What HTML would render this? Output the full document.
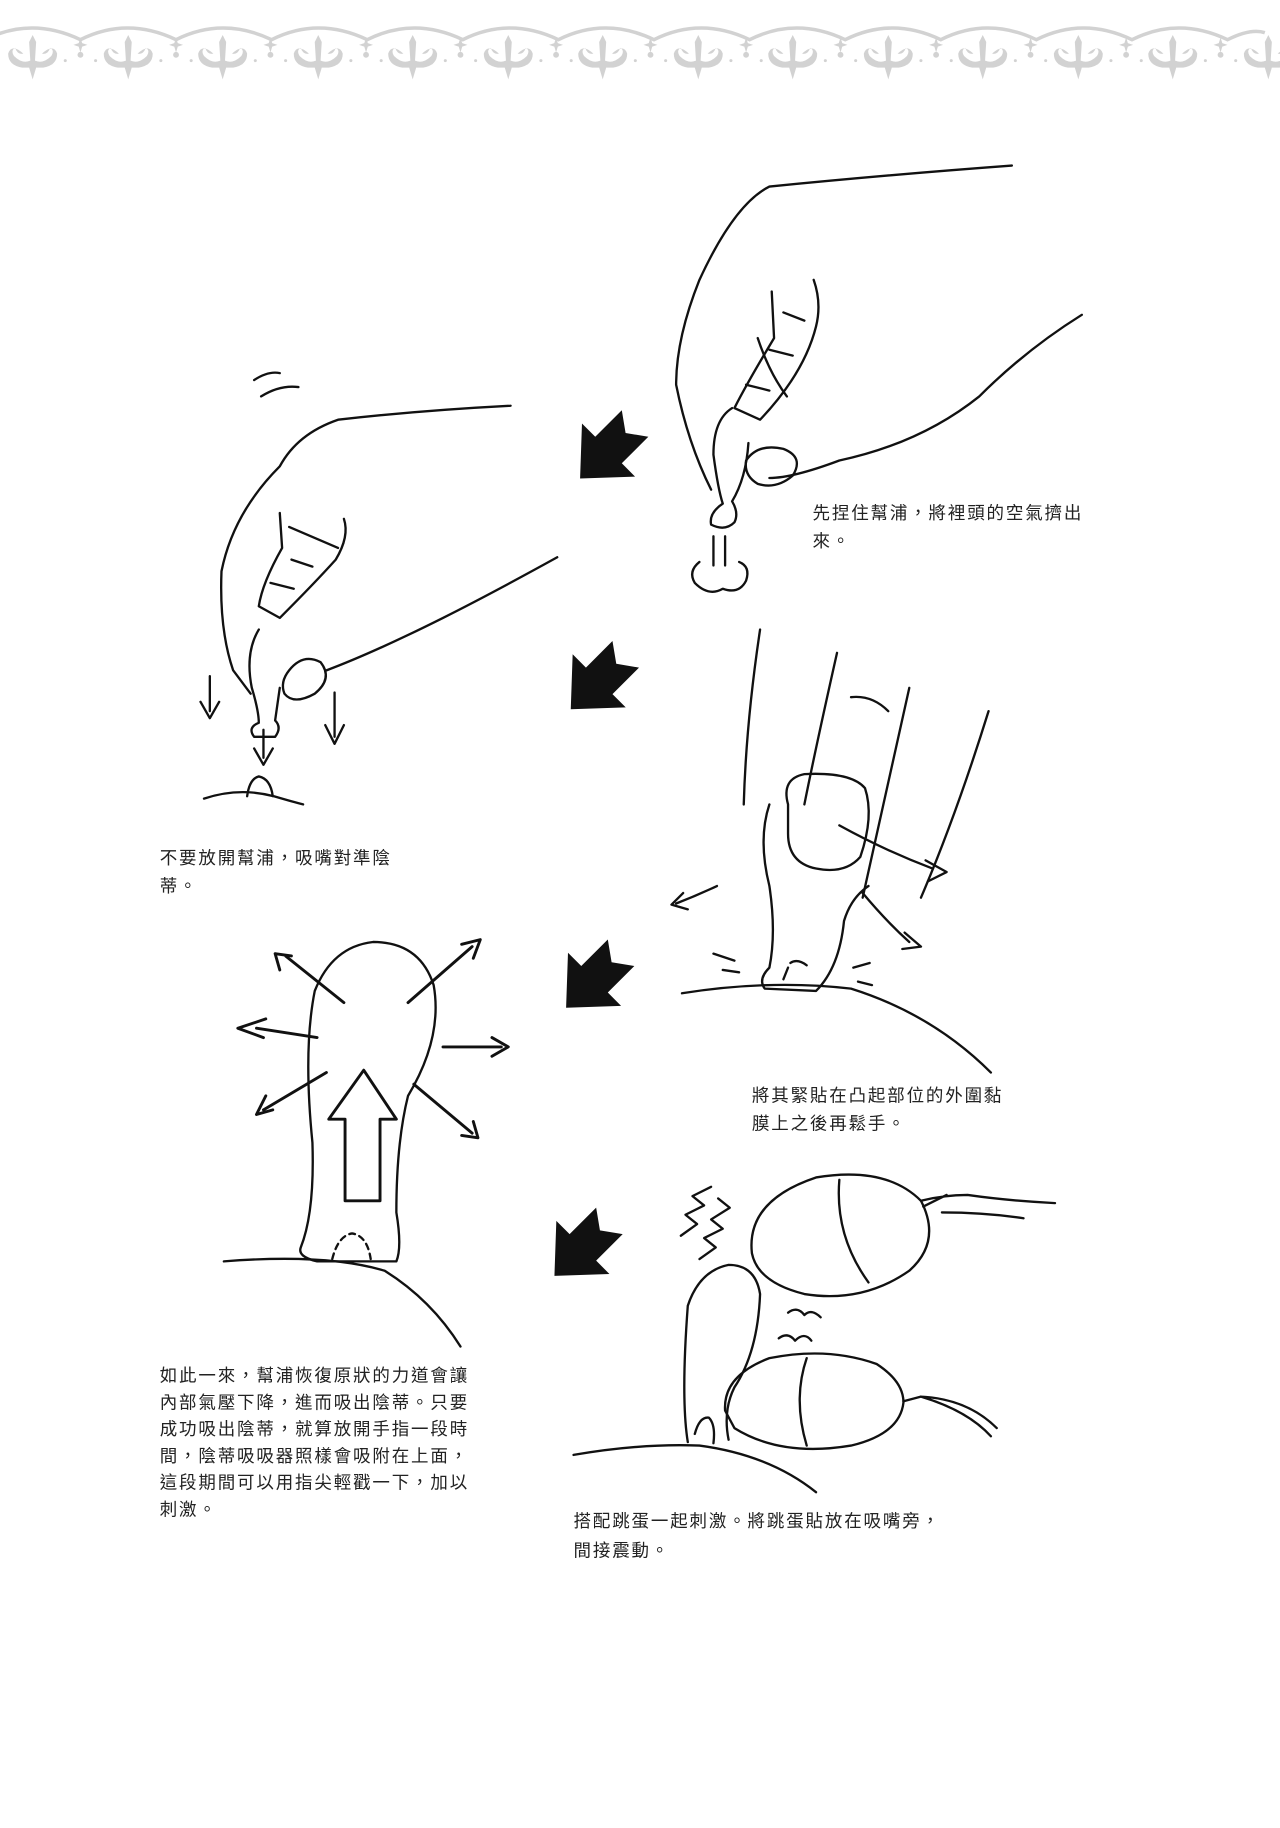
<!DOCTYPE html>
<html><head><meta charset="utf-8"><style>
html,body{margin:0;padding:0;background:#fff;}
svg{display:block;}
text{font-family:"Liberation Sans","Noto Sans CJK TC",sans-serif;font-size:15px;fill:#222;letter-spacing:1.6px;}
</style></head><body>
<svg width="1280" height="1828" viewBox="0 0 1098 1568" xmlns="http://www.w3.org/2000/svg">
<defs>
<g id="orn" fill="#d2d2d2" stroke="none">
<path d="M-3,36 L0,30 L3,36 L2,52 Q9,55 16,48 Q19,43 15,41 Q13,47 8,46 Q18,37 21,46 Q21,56 9,58 L3,58 L0,68 L-3,58 L-9,58 Q-21,56 -21,46 Q-18,37 -8,46 Q-13,47 -15,41 Q-19,43 -16,48 Q-9,55 -2,52 Z"/>
<circle cx="41" cy="47" r="2.5"/><circle cx="28" cy="52" r="1.3"/><circle cx="54" cy="52" r="1.3"/><circle cx="66" cy="54" r="1.3"/><circle cx="16" cy="54" r="1.3"/>
<path d="M41,32 L42.5,37 L47,38.5 L42.5,40 L41,45 L39.5,40 L35,38.5 L39.5,37 Z"/>
</g>
<g id="arr"><polygon points="-14,-28 0,-18 14,-28 14,0 28,0 0,30 -28,0 -14,0" fill="#111" transform="rotate(45) scale(1.15)"/></g>
</defs>
<g>
<use href="#orn" x="28"/><use href="#orn" x="110"/><use href="#orn" x="191"/><use href="#orn" x="273"/><use href="#orn" x="354"/><use href="#orn" x="436"/><use href="#orn" x="517"/><use href="#orn" x="599"/><use href="#orn" x="680"/><use href="#orn" x="762"/><use href="#orn" x="843"/><use href="#orn" x="925"/><use href="#orn" x="1006"/><use href="#orn" x="1088"/>
<path d="M0,34 Q40,14 82,34 Q122,14 164,34 Q204,14 246,34 Q286,14 328,34 Q368,14 410,34 Q450,14 492,34 Q532,14 574,34 Q614,14 656,34 Q696,14 738,34 Q778,14 820,34 Q860,14 902,34 Q942,14 984,34 Q1024,14 1066,34 Q1086,24 1098,28" fill="none" stroke="#d2d2d2" stroke-width="3" transform="translate(-13,0)"/>
</g>
<g fill="none" stroke="#111" stroke-width="2" stroke-linecap="round" stroke-linejoin="round">
<path d="M868,142 Q760,150 660,160 Q630,175 600,240 Q580,290 580,330 Q590,380 610,420"/>
<path d="M928,270 Q880,300 840,340 Q790,380 720,395 Q680,410 660,410"/>
<path d="M640,395 Q650,380 672,385 Q690,392 680,408 Q666,420 650,415 Q638,408 640,395 Z"/>
<path d="M662,250 L664,290 Q640,330 630,350 L652,360 Q690,320 700,280 Q705,260 698,240"/>
<path d="M672,268 L690,275 M650,290 Q660,320 675,340 M660,300 L680,305 M640,330 L660,335"/>
<path d="M628,350 Q612,360 612,390 Q616,420 620,432 Q608,440 610,450 Q622,456 630,448 Q634,440 628,430 Q640,410 642,380"/>
<path d="M612,460 L612,485 M622,460 L622,485 M600,482 Q590,490 596,500 Q608,512 620,505 Q634,510 640,498 Q644,486 634,482"/>
<path d="M438,348 Q360,352 290,360 Q255,372 240,400 Q200,440 190,490 Q188,540 200,575 L215,595"/>
<path d="M478,478 Q420,510 380,530 Q320,560 280,575"/>
<path d="M248,575 Q260,560 275,568 Q286,582 270,595 Q252,605 244,595 Q240,585 248,575 Z"/>
<path d="M240,440 L242,470 Q225,500 222,520 L240,530 Q270,500 288,480 Q300,460 295,445"/>
<path d="M248,452 L290,470 M232,500 L252,505 M250,480 L268,486"/>
<path d="M222,540 Q210,560 216,590 Q222,610 222,620 Q212,624 218,632 L236,632 Q242,624 236,618 L240,590"/>
<path d="M218,326 Q230,318 240,320 M224,340 Q240,330 256,332"/>
<path d="M180,580 L180,610 M172,602 L180,616 L188,602 M287,594 L287,632 M279,622 L287,638 L295,622 M226,626 L226,650 M218,642 L226,656 L234,642"/>
<path d="M175,685 Q205,675 235,683 Q252,688 260,690 M212,683 Q214,668 222,666 Q232,668 234,683"/>
<path d="M652,540 Q640,620 638,690 M718,560 Q700,640 690,690 M780,590 Q760,680 740,770 M848,610 Q820,700 790,770"/>
<path d="M730,598 Q748,596 762,610"/>
<path d="M676,690 Q670,668 690,664 Q730,662 742,676 Q750,700 738,735 Q725,750 700,745 Q676,740 676,715 Z"/>
<path d="M660,690 Q650,720 660,760 Q666,800 660,830 Q650,840 656,848 L700,850 Q720,830 724,790 Q730,770 745,760"/>
<path d="M720,708 Q760,730 800,745 M794,738 L812,748 L796,756 M740,766 Q760,790 780,808 M776,800 L790,812 L774,814 M615,760 Q598,768 580,775 M586,766 L576,776 L590,780"/>
<path d="M585,852 Q660,840 730,848 Q800,870 850,920"/>
<path d="M620,832 L634,834 M612,818 L630,824 M732,830 L746,826 M736,842 L748,845"/>
<path d="M678,826 Q684,822 692,828 M672,840 L676,830"/>
<path d="M258,1070 Q270,1040 268,980 Q260,900 270,850 Q285,812 320,808 Q360,808 372,845 Q380,890 350,940 Q340,980 340,1040 Q345,1070 340,1082 L272,1082 Q255,1078 258,1070 Z"/>
<path d="M285,1080 Q290,1060 302,1058 Q315,1060 318,1080" stroke-dasharray="5 4"/>
<path d="M192,1082 Q280,1075 330,1090 Q370,1115 395,1155"/>
<path d="M296,1030 L296,960 L282,960 L312,918 L340,960 L326,960 L326,1030 Z" stroke-width="2.5"/>
<path d="M272,890 L220,882 M228,874 L204,882 L226,890 M280,920 L226,952 M228,940 L220,956 L234,952 M295,860 L245,820 M240,832 L236,818 L250,820 M350,860 L405,812 M396,810 L412,806 L406,822 M380,898 L430,898 M422,890 L436,898 L422,906 M355,930 L405,972 M396,974 L410,976 L406,962" stroke-width="2.5"/>
<path d="M645,1075 Q640,1030 700,1010 Q760,1000 790,1030 Q808,1065 780,1090 Q740,1118 690,1110 Q650,1100 645,1075 Z"/>
<path d="M720,1012 Q716,1060 745,1100 M792,1035 L812,1025 M790,1030 Q810,1025 830,1025 Q865,1030 905,1032 M808,1040 Q845,1040 878,1045"/>
<path d="M622,1210 Q620,1180 660,1165 Q710,1155 752,1170 Q775,1185 775,1203 Q772,1230 730,1240 Q670,1250 630,1225 Z"/>
<path d="M692,1165 Q680,1200 692,1240 M775,1202 L790,1198 Q830,1200 855,1225 M790,1198 Q830,1210 850,1232"/>
<path d="M590,1237 Q584,1200 590,1120 Q600,1090 625,1085 Q648,1085 652,1110 Q650,1160 630,1190 Q620,1210 625,1235"/>
<path d="M492,1248 Q550,1238 600,1240 Q660,1248 700,1280 M596,1230 Q600,1215 608,1216 Q614,1222 612,1238"/>
<path d="M584,1060 L598,1050 L588,1042 L604,1034 L594,1026 L610,1018 M600,1080 L614,1070 L604,1062 L620,1054 L610,1046 L626,1036 L616,1028"/>
<path d="M676,1126 Q684,1120 690,1128 Q696,1122 704,1130 M668,1148 Q676,1142 682,1150 Q690,1142 696,1150"/>
</g>
<use href="#arr" x="522" y="386"/>
<use href="#arr" x="514" y="584"/>
<use href="#arr" x="510" y="840"/>
<use href="#arr" x="500" y="1070"/>
<text x="697" y="445">先捏住幫浦，將裡頭的空氣擠出</text>
<text x="697" y="469">來。</text>
<text x="137" y="741">不要放開幫浦，吸嘴對準陰</text>
<text x="137" y="765">蒂。</text>
<text x="645" y="945">將其緊貼在凸起部位的外圍黏</text>
<text x="645" y="969">膜上之後再鬆手。</text>
<text x="137" y="1185">如此一來，幫浦恢復原狀的力道會讓</text>
<text x="137" y="1208">內部氣壓下降，進而吸出陰蒂。只要</text>
<text x="137" y="1231">成功吸出陰蒂，就算放開手指一段時</text>
<text x="137" y="1254">間，陰蒂吸吸器照樣會吸附在上面，</text>
<text x="137" y="1277">這段期間可以用指尖輕戳一下，加以</text>
<text x="137" y="1300">刺激。</text>
<text x="492" y="1310">搭配跳蛋一起刺激。將跳蛋貼放在吸嘴旁，</text>
<text x="492" y="1335">間接震動。</text>
</svg>
</body></html>
